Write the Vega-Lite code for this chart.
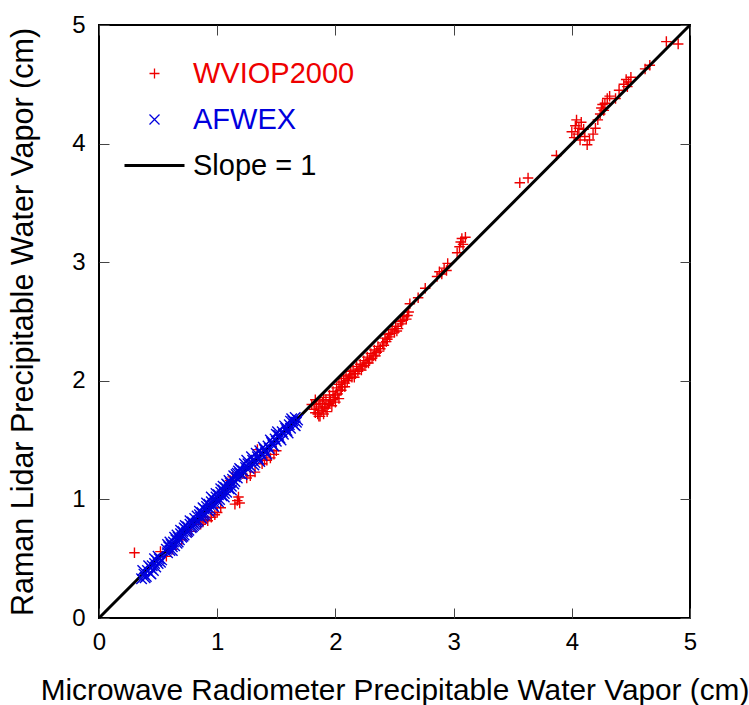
{
  "$schema": "https://vega.github.io/schema/vega-lite/v6.json",
  "width": 591,
  "height": 593,
  "autosize": {"type": "none"},
  "padding": {"left": 99, "top": 25, "right": 59, "bottom": 87},
  "background": "white",
  "config": {
    "font": "Liberation Sans",
    "view": {"stroke": "black", "strokeWidth": 2},
    "axis": {"grid": false, "domain": false, "labelFont": "Liberation Sans", "labelFontSize": 24, "labelColor": "black", "labelFlush": false, "titleFont": "Liberation Sans", "titleFontWeight": "normal", "titleColor": "black", "tickColor": "#444", "tickWidth": 1, "tickSize": -10},
    "legend": {"labelFont": "Liberation Sans", "labelFontSize": 29, "padding": 0, "labelLimit": 0}
  },
  "datasets": {
    "wv": [
      {"series": "WVIOP2000", "mwr": 0.30, "lidar": 0.55},
      {"series": "WVIOP2000", "mwr": 0.52, "lidar": 0.56},
      {"series": "WVIOP2000", "mwr": 0.57, "lidar": 0.52},
      {"series": "WVIOP2000", "mwr": 0.62, "lidar": 0.58},
      {"series": "WVIOP2000", "mwr": 0.70, "lidar": 0.66},
      {"series": "WVIOP2000", "mwr": 0.78, "lidar": 0.73},
      {"series": "WVIOP2000", "mwr": 0.86, "lidar": 0.79},
      {"series": "WVIOP2000", "mwr": 0.88, "lidar": 0.81},
      {"series": "WVIOP2000", "mwr": 0.90, "lidar": 0.83},
      {"series": "WVIOP2000", "mwr": 0.92, "lidar": 0.82},
      {"series": "WVIOP2000", "mwr": 0.95, "lidar": 0.85},
      {"series": "WVIOP2000", "mwr": 0.98, "lidar": 0.87},
      {"series": "WVIOP2000", "mwr": 1.00, "lidar": 0.89},
      {"series": "WVIOP2000", "mwr": 1.03, "lidar": 0.93},
      {"series": "WVIOP2000", "mwr": 1.11, "lidar": 1.16},
      {"series": "WVIOP2000", "mwr": 1.13, "lidar": 1.19},
      {"series": "WVIOP2000", "mwr": 1.15, "lidar": 0.96},
      {"series": "WVIOP2000", "mwr": 1.17, "lidar": 0.99},
      {"series": "WVIOP2000", "mwr": 1.18, "lidar": 1.02},
      {"series": "WVIOP2000", "mwr": 1.19, "lidar": 0.97},
      {"series": "WVIOP2000", "mwr": 1.25, "lidar": 1.18},
      {"series": "WVIOP2000", "mwr": 1.28, "lidar": 1.20},
      {"series": "WVIOP2000", "mwr": 1.32, "lidar": 1.23},
      {"series": "WVIOP2000", "mwr": 1.34, "lidar": 1.42},
      {"series": "WVIOP2000", "mwr": 1.38, "lidar": 1.30},
      {"series": "WVIOP2000", "mwr": 1.40, "lidar": 1.33},
      {"series": "WVIOP2000", "mwr": 1.42, "lidar": 1.33},
      {"series": "WVIOP2000", "mwr": 1.45, "lidar": 1.35},
      {"series": "WVIOP2000", "mwr": 1.48, "lidar": 1.38},
      {"series": "WVIOP2000", "mwr": 1.50, "lidar": 1.41},
      {"series": "WVIOP2000", "mwr": 1.80, "lidar": 1.80},
      {"series": "WVIOP2000", "mwr": 1.82, "lidar": 1.76},
      {"series": "WVIOP2000", "mwr": 1.83, "lidar": 1.73},
      {"series": "WVIOP2000", "mwr": 1.83, "lidar": 1.84},
      {"series": "WVIOP2000", "mwr": 1.84, "lidar": 1.80},
      {"series": "WVIOP2000", "mwr": 1.85, "lidar": 1.72},
      {"series": "WVIOP2000", "mwr": 1.86, "lidar": 1.78},
      {"series": "WVIOP2000", "mwr": 1.86, "lidar": 1.70},
      {"series": "WVIOP2000", "mwr": 1.87, "lidar": 1.70},
      {"series": "WVIOP2000", "mwr": 1.87, "lidar": 1.83},
      {"series": "WVIOP2000", "mwr": 1.88, "lidar": 1.75},
      {"series": "WVIOP2000", "mwr": 1.89, "lidar": 1.81},
      {"series": "WVIOP2000", "mwr": 1.89, "lidar": 1.77},
      {"series": "WVIOP2000", "mwr": 1.90, "lidar": 1.86},
      {"series": "WVIOP2000", "mwr": 1.90, "lidar": 1.72},
      {"series": "WVIOP2000", "mwr": 1.91, "lidar": 1.78},
      {"series": "WVIOP2000", "mwr": 1.92, "lidar": 1.84},
      {"series": "WVIOP2000", "mwr": 1.92, "lidar": 1.77},
      {"series": "WVIOP2000", "mwr": 1.93, "lidar": 1.74},
      {"series": "WVIOP2000", "mwr": 1.94, "lidar": 1.80},
      {"series": "WVIOP2000", "mwr": 1.95, "lidar": 1.88},
      {"series": "WVIOP2000", "mwr": 1.95, "lidar": 1.81},
      {"series": "WVIOP2000", "mwr": 1.96, "lidar": 1.83},
      {"series": "WVIOP2000", "mwr": 1.97, "lidar": 1.79},
      {"series": "WVIOP2000", "mwr": 1.98, "lidar": 1.91},
      {"series": "WVIOP2000", "mwr": 1.98, "lidar": 1.84},
      {"series": "WVIOP2000", "mwr": 1.99, "lidar": 1.86},
      {"series": "WVIOP2000", "mwr": 2.00, "lidar": 1.82},
      {"series": "WVIOP2000", "mwr": 2.00, "lidar": 1.88},
      {"series": "WVIOP2000", "mwr": 2.01, "lidar": 1.94},
      {"series": "WVIOP2000", "mwr": 2.02, "lidar": 1.89},
      {"series": "WVIOP2000", "mwr": 2.03, "lidar": 1.97},
      {"series": "WVIOP2000", "mwr": 2.03, "lidar": 1.85},
      {"series": "WVIOP2000", "mwr": 2.04, "lidar": 1.92},
      {"series": "WVIOP2000", "mwr": 2.05, "lidar": 1.99},
      {"series": "WVIOP2000", "mwr": 2.05, "lidar": 1.92},
      {"series": "WVIOP2000", "mwr": 2.06, "lidar": 1.95},
      {"series": "WVIOP2000", "mwr": 2.07, "lidar": 2.02},
      {"series": "WVIOP2000", "mwr": 2.08, "lidar": 1.98},
      {"series": "WVIOP2000", "mwr": 2.08, "lidar": 1.95},
      {"series": "WVIOP2000", "mwr": 2.09, "lidar": 2.04},
      {"series": "WVIOP2000", "mwr": 2.10, "lidar": 2.00},
      {"series": "WVIOP2000", "mwr": 2.11, "lidar": 2.02},
      {"series": "WVIOP2000", "mwr": 2.12, "lidar": 2.05},
      {"series": "WVIOP2000", "mwr": 2.13, "lidar": 2.08},
      {"series": "WVIOP2000", "mwr": 2.14, "lidar": 2.03},
      {"series": "WVIOP2000", "mwr": 2.15, "lidar": 2.09},
      {"series": "WVIOP2000", "mwr": 2.16, "lidar": 2.03},
      {"series": "WVIOP2000", "mwr": 2.17, "lidar": 2.06},
      {"series": "WVIOP2000", "mwr": 2.18, "lidar": 2.12},
      {"series": "WVIOP2000", "mwr": 2.19, "lidar": 2.08},
      {"series": "WVIOP2000", "mwr": 2.20, "lidar": 2.10},
      {"series": "WVIOP2000", "mwr": 2.21, "lidar": 2.14},
      {"series": "WVIOP2000", "mwr": 2.22, "lidar": 2.09},
      {"series": "WVIOP2000", "mwr": 2.23, "lidar": 2.12},
      {"series": "WVIOP2000", "mwr": 2.24, "lidar": 2.17},
      {"series": "WVIOP2000", "mwr": 2.25, "lidar": 2.13},
      {"series": "WVIOP2000", "mwr": 2.26, "lidar": 2.15},
      {"series": "WVIOP2000", "mwr": 2.27, "lidar": 2.20},
      {"series": "WVIOP2000", "mwr": 2.28, "lidar": 2.15},
      {"series": "WVIOP2000", "mwr": 2.29, "lidar": 2.18},
      {"series": "WVIOP2000", "mwr": 2.30, "lidar": 2.23},
      {"series": "WVIOP2000", "mwr": 2.31, "lidar": 2.19},
      {"series": "WVIOP2000", "mwr": 2.32, "lidar": 2.21},
      {"series": "WVIOP2000", "mwr": 2.33, "lidar": 2.26},
      {"series": "WVIOP2000", "mwr": 2.34, "lidar": 2.21},
      {"series": "WVIOP2000", "mwr": 2.35, "lidar": 2.24},
      {"series": "WVIOP2000", "mwr": 2.36, "lidar": 2.29},
      {"series": "WVIOP2000", "mwr": 2.37, "lidar": 2.25},
      {"series": "WVIOP2000", "mwr": 2.38, "lidar": 2.27},
      {"series": "WVIOP2000", "mwr": 2.40, "lidar": 2.32},
      {"series": "WVIOP2000", "mwr": 2.41, "lidar": 2.30},
      {"series": "WVIOP2000", "mwr": 2.42, "lidar": 2.36},
      {"series": "WVIOP2000", "mwr": 2.43, "lidar": 2.33},
      {"series": "WVIOP2000", "mwr": 2.44, "lidar": 2.35},
      {"series": "WVIOP2000", "mwr": 2.45, "lidar": 2.39},
      {"series": "WVIOP2000", "mwr": 2.46, "lidar": 2.37},
      {"series": "WVIOP2000", "mwr": 2.47, "lidar": 2.40},
      {"series": "WVIOP2000", "mwr": 2.48, "lidar": 2.43},
      {"series": "WVIOP2000", "mwr": 2.50, "lidar": 2.41},
      {"series": "WVIOP2000", "mwr": 2.51, "lidar": 2.46},
      {"series": "WVIOP2000", "mwr": 2.52, "lidar": 2.42},
      {"series": "WVIOP2000", "mwr": 2.53, "lidar": 2.44},
      {"series": "WVIOP2000", "mwr": 2.55, "lidar": 2.50},
      {"series": "WVIOP2000", "mwr": 2.56, "lidar": 2.48},
      {"series": "WVIOP2000", "mwr": 2.57, "lidar": 2.51},
      {"series": "WVIOP2000", "mwr": 2.58, "lidar": 2.54},
      {"series": "WVIOP2000", "mwr": 2.60, "lidar": 2.52},
      {"series": "WVIOP2000", "mwr": 2.61, "lidar": 2.55},
      {"series": "WVIOP2000", "mwr": 2.62, "lidar": 2.58},
      {"series": "WVIOP2000", "mwr": 2.63, "lidar": 2.65},
      {"series": "WVIOP2000", "mwr": 2.70, "lidar": 2.70},
      {"series": "WVIOP2000", "mwr": 2.76, "lidar": 2.78},
      {"series": "WVIOP2000", "mwr": 2.86, "lidar": 2.88},
      {"series": "WVIOP2000", "mwr": 2.88, "lidar": 2.92},
      {"series": "WVIOP2000", "mwr": 2.90, "lidar": 2.90},
      {"series": "WVIOP2000", "mwr": 2.92, "lidar": 2.95},
      {"series": "WVIOP2000", "mwr": 2.94, "lidar": 2.93},
      {"series": "WVIOP2000", "mwr": 2.95, "lidar": 2.99},
      {"series": "WVIOP2000", "mwr": 3.03, "lidar": 3.08},
      {"series": "WVIOP2000", "mwr": 3.05, "lidar": 3.13},
      {"series": "WVIOP2000", "mwr": 3.06, "lidar": 3.17},
      {"series": "WVIOP2000", "mwr": 3.07, "lidar": 3.20},
      {"series": "WVIOP2000", "mwr": 3.08, "lidar": 3.15},
      {"series": "WVIOP2000", "mwr": 3.10, "lidar": 3.21},
      {"series": "WVIOP2000", "mwr": 3.56, "lidar": 3.67},
      {"series": "WVIOP2000", "mwr": 3.63, "lidar": 3.71},
      {"series": "WVIOP2000", "mwr": 3.87, "lidar": 3.90},
      {"series": "WVIOP2000", "mwr": 4.00, "lidar": 4.10},
      {"series": "WVIOP2000", "mwr": 4.02, "lidar": 4.05},
      {"series": "WVIOP2000", "mwr": 4.03, "lidar": 4.15},
      {"series": "WVIOP2000", "mwr": 4.04, "lidar": 4.20},
      {"series": "WVIOP2000", "mwr": 4.05, "lidar": 4.08},
      {"series": "WVIOP2000", "mwr": 4.06, "lidar": 4.13},
      {"series": "WVIOP2000", "mwr": 4.07, "lidar": 4.03},
      {"series": "WVIOP2000", "mwr": 4.08, "lidar": 4.18},
      {"series": "WVIOP2000", "mwr": 4.10, "lidar": 4.12},
      {"series": "WVIOP2000", "mwr": 4.11, "lidar": 4.06},
      {"series": "WVIOP2000", "mwr": 4.13, "lidar": 3.99},
      {"series": "WVIOP2000", "mwr": 4.15, "lidar": 4.03},
      {"series": "WVIOP2000", "mwr": 4.18, "lidar": 4.08},
      {"series": "WVIOP2000", "mwr": 4.20, "lidar": 4.13},
      {"series": "WVIOP2000", "mwr": 4.22, "lidar": 4.20},
      {"series": "WVIOP2000", "mwr": 4.24, "lidar": 4.25},
      {"series": "WVIOP2000", "mwr": 4.25, "lidar": 4.30},
      {"series": "WVIOP2000", "mwr": 4.26, "lidar": 4.33},
      {"series": "WVIOP2000", "mwr": 4.27, "lidar": 4.28},
      {"series": "WVIOP2000", "mwr": 4.28, "lidar": 4.34},
      {"series": "WVIOP2000", "mwr": 4.30, "lidar": 4.38},
      {"series": "WVIOP2000", "mwr": 4.32, "lidar": 4.40},
      {"series": "WVIOP2000", "mwr": 4.37, "lidar": 4.38},
      {"series": "WVIOP2000", "mwr": 4.40, "lidar": 4.45},
      {"series": "WVIOP2000", "mwr": 4.44, "lidar": 4.50},
      {"series": "WVIOP2000", "mwr": 4.46, "lidar": 4.54},
      {"series": "WVIOP2000", "mwr": 4.47, "lidar": 4.48},
      {"series": "WVIOP2000", "mwr": 4.48, "lidar": 4.52},
      {"series": "WVIOP2000", "mwr": 4.50, "lidar": 4.56},
      {"series": "WVIOP2000", "mwr": 4.62, "lidar": 4.63},
      {"series": "WVIOP2000", "mwr": 4.66, "lidar": 4.66},
      {"series": "WVIOP2000", "mwr": 4.80, "lidar": 4.86},
      {"series": "WVIOP2000", "mwr": 4.90, "lidar": 4.84}
    ],
    "af": [
      {"series": "AFWEX", "mwr": 0.36, "lidar": 0.33},
      {"series": "AFWEX", "mwr": 0.37, "lidar": 0.40},
      {"series": "AFWEX", "mwr": 0.38, "lidar": 0.37},
      {"series": "AFWEX", "mwr": 0.39, "lidar": 0.34},
      {"series": "AFWEX", "mwr": 0.40, "lidar": 0.35},
      {"series": "AFWEX", "mwr": 0.41, "lidar": 0.40},
      {"series": "AFWEX", "mwr": 0.42, "lidar": 0.44},
      {"series": "AFWEX", "mwr": 0.43, "lidar": 0.38},
      {"series": "AFWEX", "mwr": 0.44, "lidar": 0.42},
      {"series": "AFWEX", "mwr": 0.44, "lidar": 0.37},
      {"series": "AFWEX", "mwr": 0.45, "lidar": 0.44},
      {"series": "AFWEX", "mwr": 0.46, "lidar": 0.40},
      {"series": "AFWEX", "mwr": 0.47, "lidar": 0.46},
      {"series": "AFWEX", "mwr": 0.47, "lidar": 0.50},
      {"series": "AFWEX", "mwr": 0.48, "lidar": 0.43},
      {"series": "AFWEX", "mwr": 0.49, "lidar": 0.48},
      {"series": "AFWEX", "mwr": 0.50, "lidar": 0.46},
      {"series": "AFWEX", "mwr": 0.50, "lidar": 0.52},
      {"series": "AFWEX", "mwr": 0.51, "lidar": 0.50},
      {"series": "AFWEX", "mwr": 0.52, "lidar": 0.47},
      {"series": "AFWEX", "mwr": 0.53, "lidar": 0.49},
      {"series": "AFWEX", "mwr": 0.57, "lidar": 0.58},
      {"series": "AFWEX", "mwr": 0.58, "lidar": 0.55},
      {"series": "AFWEX", "mwr": 0.58, "lidar": 0.62},
      {"series": "AFWEX", "mwr": 0.59, "lidar": 0.60},
      {"series": "AFWEX", "mwr": 0.60, "lidar": 0.57},
      {"series": "AFWEX", "mwr": 0.60, "lidar": 0.64},
      {"series": "AFWEX", "mwr": 0.61, "lidar": 0.62},
      {"series": "AFWEX", "mwr": 0.62, "lidar": 0.60},
      {"series": "AFWEX", "mwr": 0.62, "lidar": 0.57},
      {"series": "AFWEX", "mwr": 0.63, "lidar": 0.64},
      {"series": "AFWEX", "mwr": 0.64, "lidar": 0.61},
      {"series": "AFWEX", "mwr": 0.64, "lidar": 0.68},
      {"series": "AFWEX", "mwr": 0.65, "lidar": 0.66},
      {"series": "AFWEX", "mwr": 0.66, "lidar": 0.63},
      {"series": "AFWEX", "mwr": 0.66, "lidar": 0.70},
      {"series": "AFWEX", "mwr": 0.67, "lidar": 0.68},
      {"series": "AFWEX", "mwr": 0.67, "lidar": 0.64},
      {"series": "AFWEX", "mwr": 0.68, "lidar": 0.66},
      {"series": "AFWEX", "mwr": 0.69, "lidar": 0.71},
      {"series": "AFWEX", "mwr": 0.69, "lidar": 0.74},
      {"series": "AFWEX", "mwr": 0.70, "lidar": 0.68},
      {"series": "AFWEX", "mwr": 0.71, "lidar": 0.73},
      {"series": "AFWEX", "mwr": 0.71, "lidar": 0.69},
      {"series": "AFWEX", "mwr": 0.72, "lidar": 0.70},
      {"series": "AFWEX", "mwr": 0.72, "lidar": 0.76},
      {"series": "AFWEX", "mwr": 0.73, "lidar": 0.75},
      {"series": "AFWEX", "mwr": 0.73, "lidar": 0.78},
      {"series": "AFWEX", "mwr": 0.74, "lidar": 0.72},
      {"series": "AFWEX", "mwr": 0.75, "lidar": 0.77},
      {"series": "AFWEX", "mwr": 0.75, "lidar": 0.73},
      {"series": "AFWEX", "mwr": 0.76, "lidar": 0.74},
      {"series": "AFWEX", "mwr": 0.77, "lidar": 0.79},
      {"series": "AFWEX", "mwr": 0.77, "lidar": 0.82},
      {"series": "AFWEX", "mwr": 0.78, "lidar": 0.76},
      {"series": "AFWEX", "mwr": 0.79, "lidar": 0.81},
      {"series": "AFWEX", "mwr": 0.79, "lidar": 0.77},
      {"series": "AFWEX", "mwr": 0.80, "lidar": 0.78},
      {"series": "AFWEX", "mwr": 0.81, "lidar": 0.84},
      {"series": "AFWEX", "mwr": 0.81, "lidar": 0.79},
      {"series": "AFWEX", "mwr": 0.82, "lidar": 0.80},
      {"series": "AFWEX", "mwr": 0.83, "lidar": 0.86},
      {"series": "AFWEX", "mwr": 0.83, "lidar": 0.81},
      {"series": "AFWEX", "mwr": 0.84, "lidar": 0.82},
      {"series": "AFWEX", "mwr": 0.85, "lidar": 0.87},
      {"series": "AFWEX", "mwr": 0.85, "lidar": 0.90},
      {"series": "AFWEX", "mwr": 0.86, "lidar": 0.85},
      {"series": "AFWEX", "mwr": 0.87, "lidar": 0.89},
      {"series": "AFWEX", "mwr": 0.87, "lidar": 0.84},
      {"series": "AFWEX", "mwr": 0.88, "lidar": 0.86},
      {"series": "AFWEX", "mwr": 0.88, "lidar": 0.93},
      {"series": "AFWEX", "mwr": 0.89, "lidar": 0.92},
      {"series": "AFWEX", "mwr": 0.89, "lidar": 0.87},
      {"series": "AFWEX", "mwr": 0.90, "lidar": 0.88},
      {"series": "AFWEX", "mwr": 0.91, "lidar": 0.94},
      {"series": "AFWEX", "mwr": 0.91, "lidar": 0.97},
      {"series": "AFWEX", "mwr": 0.92, "lidar": 0.91},
      {"series": "AFWEX", "mwr": 0.93, "lidar": 0.96},
      {"series": "AFWEX", "mwr": 0.93, "lidar": 0.90},
      {"series": "AFWEX", "mwr": 0.94, "lidar": 0.92},
      {"series": "AFWEX", "mwr": 0.95, "lidar": 0.98},
      {"series": "AFWEX", "mwr": 0.95, "lidar": 1.02},
      {"series": "AFWEX", "mwr": 0.96, "lidar": 0.95},
      {"series": "AFWEX", "mwr": 0.97, "lidar": 1.00},
      {"series": "AFWEX", "mwr": 0.97, "lidar": 0.94},
      {"series": "AFWEX", "mwr": 0.98, "lidar": 0.97},
      {"series": "AFWEX", "mwr": 0.99, "lidar": 1.02},
      {"series": "AFWEX", "mwr": 0.99, "lidar": 1.05},
      {"series": "AFWEX", "mwr": 1.00, "lidar": 0.99},
      {"series": "AFWEX", "mwr": 1.01, "lidar": 1.04},
      {"series": "AFWEX", "mwr": 1.01, "lidar": 0.98},
      {"series": "AFWEX", "mwr": 1.02, "lidar": 1.00},
      {"series": "AFWEX", "mwr": 1.03, "lidar": 1.06},
      {"series": "AFWEX", "mwr": 1.03, "lidar": 1.09},
      {"series": "AFWEX", "mwr": 1.04, "lidar": 1.03},
      {"series": "AFWEX", "mwr": 1.05, "lidar": 1.08},
      {"series": "AFWEX", "mwr": 1.05, "lidar": 1.11},
      {"series": "AFWEX", "mwr": 1.06, "lidar": 1.05},
      {"series": "AFWEX", "mwr": 1.06, "lidar": 1.02},
      {"series": "AFWEX", "mwr": 1.07, "lidar": 1.10},
      {"series": "AFWEX", "mwr": 1.08, "lidar": 1.06},
      {"series": "AFWEX", "mwr": 1.08, "lidar": 1.13},
      {"series": "AFWEX", "mwr": 1.09, "lidar": 1.12},
      {"series": "AFWEX", "mwr": 1.10, "lidar": 1.09},
      {"series": "AFWEX", "mwr": 1.10, "lidar": 1.16},
      {"series": "AFWEX", "mwr": 1.11, "lidar": 1.14},
      {"series": "AFWEX", "mwr": 1.12, "lidar": 1.11},
      {"series": "AFWEX", "mwr": 1.12, "lidar": 1.08},
      {"series": "AFWEX", "mwr": 1.13, "lidar": 1.17},
      {"series": "AFWEX", "mwr": 1.14, "lidar": 1.13},
      {"series": "AFWEX", "mwr": 1.14, "lidar": 1.20},
      {"series": "AFWEX", "mwr": 1.15, "lidar": 1.19},
      {"series": "AFWEX", "mwr": 1.15, "lidar": 1.15},
      {"series": "AFWEX", "mwr": 1.16, "lidar": 1.21},
      {"series": "AFWEX", "mwr": 1.17, "lidar": 1.18},
      {"series": "AFWEX", "mwr": 1.17, "lidar": 1.22},
      {"series": "AFWEX", "mwr": 1.18, "lidar": 1.24},
      {"series": "AFWEX", "mwr": 1.19, "lidar": 1.22},
      {"series": "AFWEX", "mwr": 1.19, "lidar": 1.26},
      {"series": "AFWEX", "mwr": 1.20, "lidar": 1.25},
      {"series": "AFWEX", "mwr": 1.21, "lidar": 1.21},
      {"series": "AFWEX", "mwr": 1.22, "lidar": 1.24},
      {"series": "AFWEX", "mwr": 1.23, "lidar": 1.30},
      {"series": "AFWEX", "mwr": 1.24, "lidar": 1.27},
      {"series": "AFWEX", "mwr": 1.25, "lidar": 1.33},
      {"series": "AFWEX", "mwr": 1.26, "lidar": 1.30},
      {"series": "AFWEX", "mwr": 1.27, "lidar": 1.26},
      {"series": "AFWEX", "mwr": 1.28, "lidar": 1.28},
      {"series": "AFWEX", "mwr": 1.29, "lidar": 1.36},
      {"series": "AFWEX", "mwr": 1.30, "lidar": 1.33},
      {"series": "AFWEX", "mwr": 1.31, "lidar": 1.29},
      {"series": "AFWEX", "mwr": 1.32, "lidar": 1.31},
      {"series": "AFWEX", "mwr": 1.33, "lidar": 1.39},
      {"series": "AFWEX", "mwr": 1.34, "lidar": 1.36},
      {"series": "AFWEX", "mwr": 1.35, "lidar": 1.34},
      {"series": "AFWEX", "mwr": 1.36, "lidar": 1.41},
      {"series": "AFWEX", "mwr": 1.36, "lidar": 1.32},
      {"series": "AFWEX", "mwr": 1.37, "lidar": 1.39},
      {"series": "AFWEX", "mwr": 1.38, "lidar": 1.37},
      {"series": "AFWEX", "mwr": 1.39, "lidar": 1.44},
      {"series": "AFWEX", "mwr": 1.40, "lidar": 1.42},
      {"series": "AFWEX", "mwr": 1.41, "lidar": 1.40},
      {"series": "AFWEX", "mwr": 1.42, "lidar": 1.38},
      {"series": "AFWEX", "mwr": 1.43, "lidar": 1.45},
      {"series": "AFWEX", "mwr": 1.44, "lidar": 1.43},
      {"series": "AFWEX", "mwr": 1.45, "lidar": 1.50},
      {"series": "AFWEX", "mwr": 1.46, "lidar": 1.48},
      {"series": "AFWEX", "mwr": 1.47, "lidar": 1.46},
      {"series": "AFWEX", "mwr": 1.48, "lidar": 1.45},
      {"series": "AFWEX", "mwr": 1.49, "lidar": 1.51},
      {"series": "AFWEX", "mwr": 1.50, "lidar": 1.49},
      {"series": "AFWEX", "mwr": 1.50, "lidar": 1.55},
      {"series": "AFWEX", "mwr": 1.51, "lidar": 1.57},
      {"series": "AFWEX", "mwr": 1.52, "lidar": 1.54},
      {"series": "AFWEX", "mwr": 1.53, "lidar": 1.52},
      {"series": "AFWEX", "mwr": 1.54, "lidar": 1.50},
      {"series": "AFWEX", "mwr": 1.55, "lidar": 1.57},
      {"series": "AFWEX", "mwr": 1.56, "lidar": 1.55},
      {"series": "AFWEX", "mwr": 1.57, "lidar": 1.62},
      {"series": "AFWEX", "mwr": 1.58, "lidar": 1.60},
      {"series": "AFWEX", "mwr": 1.59, "lidar": 1.58},
      {"series": "AFWEX", "mwr": 1.60, "lidar": 1.56},
      {"series": "AFWEX", "mwr": 1.61, "lidar": 1.63},
      {"series": "AFWEX", "mwr": 1.62, "lidar": 1.60},
      {"series": "AFWEX", "mwr": 1.62, "lidar": 1.66},
      {"series": "AFWEX", "mwr": 1.63, "lidar": 1.68},
      {"series": "AFWEX", "mwr": 1.64, "lidar": 1.66},
      {"series": "AFWEX", "mwr": 1.65, "lidar": 1.63},
      {"series": "AFWEX", "mwr": 1.66, "lidar": 1.62},
      {"series": "AFWEX", "mwr": 1.66, "lidar": 1.69},
      {"series": "AFWEX", "mwr": 1.67, "lidar": 1.65},
      {"series": "AFWEX", "mwr": 1.68, "lidar": 1.67}
    ],
    "one": [
      {"mwr": 0, "lidar": 0},
      {"mwr": 5, "lidar": 5}
    ]
  },
  "resolve": {"axis": {"x": "independent", "y": "independent"}},
  "layer": [
    {
      "data": {"name": "wv"},
      "mark": {"type": "point", "filled": false, "opacity": 1, "strokeWidth": 1.4, "size": 110},
      "encoding": {
        "x": {"field": "mwr", "type": "quantitative", "scale": {"domain": [0, 5], "nice": false},
              "axis": {"orient": "bottom", "values": [0, 1, 2, 3, 4, 5], "labelPadding": 22, "title": "Microwave Radiometer Precipitable Water Vapor (cm)", "titleFontSize": 29.8, "titlePadding": 21}},
        "y": {"field": "lidar", "type": "quantitative", "scale": {"domain": [0, 5], "nice": false},
              "axis": {"orient": "left", "values": [0, 1, 2, 3, 4, 5], "labelPadding": 24, "title": "Raman Lidar Precipitable Water Vapor (cm)", "titleFontSize": 30.5, "titlePadding": 33}},
        "color": {"field": "series", "type": "nominal",
                  "scale": {"domain": ["WVIOP2000", "AFWEX", "Slope = 1"], "range": ["#ee0000", "#0000dd", "#000000"]},
                  "legend": {"title": null, "orient": "none", "legendX": 41, "legendY": 34, "labelOffset": 24, "symbolSize": 100, "rowPadding": 16,
                             "labelColor": {"expr": "datum.value === 'WVIOP2000' ? '#ee0000' : datum.value === 'AFWEX' ? '#0000dd' : '#000000'"},
                             "symbolStrokeWidth": {"expr": "datum.value === 'Slope = 1' ? 3 : 1.3"}}},
        "shape": {"field": "series", "type": "nominal",
                  "scale": {"domain": ["WVIOP2000", "AFWEX", "Slope = 1"], "range": ["M-1,0H1M0,-1V1", "M-1,-1L1,1M-1,1L1,-1", "M-6,0H6"]},
                  "legend": {"title": null, "orient": "none", "legendX": 41, "legendY": 34, "labelOffset": 24, "symbolSize": 100, "rowPadding": 16,
                             "labelColor": {"expr": "datum.value === 'WVIOP2000' ? '#ee0000' : datum.value === 'AFWEX' ? '#0000dd' : '#000000'"},
                             "symbolStrokeWidth": {"expr": "datum.value === 'Slope = 1' ? 3 : 1.3"}}}
      }
    },
    {
      "data": {"name": "one"},
      "mark": {"type": "line", "color": "black", "strokeWidth": 3},
      "encoding": {
        "x": {"field": "mwr", "type": "quantitative", "axis": {"orient": "top", "values": [0, 1, 2, 3, 4, 5], "labels": false, "title": null}},
        "y": {"field": "lidar", "type": "quantitative", "axis": {"orient": "right", "values": [0, 1, 2, 3, 4, 5], "labels": false, "title": null}}
      }
    },
    {
      "data": {"name": "af"},
      "mark": {"type": "point", "filled": false, "opacity": 1, "strokeWidth": 1.4, "size": 110},
      "encoding": {
        "x": {"field": "mwr", "type": "quantitative", "axis": null},
        "y": {"field": "lidar", "type": "quantitative", "axis": null},
        "color": {"field": "series", "type": "nominal"},
        "shape": {"field": "series", "type": "nominal"}
      }
    }
  ]
}
